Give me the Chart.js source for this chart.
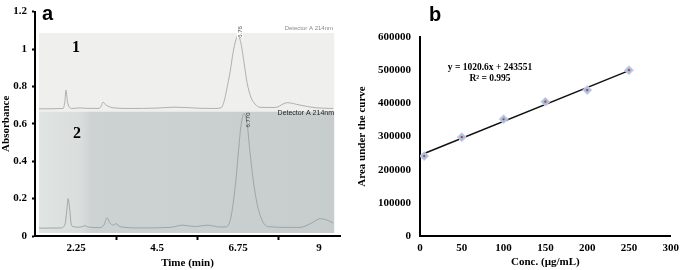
<!DOCTYPE html>
<html>
<head>
<meta charset="utf-8">
<script src="https://cdn.jsdelivr.net/npm/chart.js@4.4.0/dist/chart.umd.min.js"></script>
<style>
  html, body { margin: 0; padding: 0; background: #fff; }
  #wrap { position: relative; width: 685px; height: 270px; }
  #chartA { position: absolute; left: 0; top: 0; }
  #chartB { position: absolute; left: 345px; top: 0; }
</style>
</head>
<body>
<div id="wrap">
  <canvas id="chartA" width="345" height="270"></canvas>
  <canvas id="chartB" width="340" height="270"></canvas>
</div>
<script>
// panel a - two chromatograms, [time (min), absorbance as plotted]
const timeTicks = [2.25, 4.5, 6.75, 9];
const trace1 = [
  [1.22, 0.680], [1.89, 0.682], [1.94, 0.72], [1.97, 0.78], [2.01, 0.72], [2.06, 0.69],
  [2.14, 0.682], [2.36, 0.685], [2.5, 0.683], [2.89, 0.682], [2.96, 0.70], [3.0, 0.716],
  [3.08, 0.70], [3.17, 0.692], [3.25, 0.686], [3.75, 0.682], [4.5, 0.684], [5.0, 0.689],
  [5.69, 0.683], [6.11, 0.682], [6.28, 0.686], [6.36, 0.72], [6.44, 0.79], [6.53, 0.88],
  [6.61, 0.98], [6.69, 1.05], [6.75, 1.07], [6.83, 1.03], [6.92, 0.92], [7.0, 0.82],
  [7.11, 0.74], [7.22, 0.706], [7.36, 0.688], [7.78, 0.687], [8.11, 0.713], [8.47, 0.70],
  [8.89, 0.686], [9.39, 0.682]
];
const trace2 = [
  [1.22, 0.042], [1.81, 0.043], [1.94, 0.06], [2.0, 0.15], [2.03, 0.20], [2.07, 0.15],
  [2.11, 0.07], [2.17, 0.05], [2.36, 0.047], [2.5, 0.055], [2.58, 0.048], [2.92, 0.045],
  [3.03, 0.06], [3.11, 0.098], [3.19, 0.07], [3.28, 0.058], [3.36, 0.066], [3.47, 0.05],
  [4.03, 0.043], [4.86, 0.046], [5.22, 0.058], [5.56, 0.05], [5.89, 0.058], [6.25, 0.048],
  [6.42, 0.049], [6.53, 0.083], [6.61, 0.17], [6.69, 0.30], [6.75, 0.43], [6.83, 0.59],
  [6.92, 0.655], [7.0, 0.60], [7.08, 0.45], [7.17, 0.30], [7.28, 0.17], [7.42, 0.083],
  [7.58, 0.05], [8.19, 0.046], [8.47, 0.046], [8.8, 0.07], [9.03, 0.093], [9.22, 0.085],
  [9.39, 0.07]
];

// panel b - calibration curve
const concentrations = [5, 50, 100, 150, 200, 250];
const areas = [241000, 298000, 352000, 405000, 440000, 500000];
const fitLine = [[5, 248654], [250, 498701]];
const fitLabel = ['y = 1020.6x + 243551', 'R\u00b2 = 0.995'];

const serif = '"Liberation Serif", "Times New Roman", serif';
const sans = '"Liberation Sans", Arial, sans-serif';
const toXY = arr => arr.map(p => ({ x: p[0], y: p[1] }));

// grey photo-like backgrounds behind the traces, plus the labels printed on them
const chromatogramDecor = {
  id: 'chromatogramDecor',
  beforeDatasetsDraw(chart) {
    const { ctx, scales: { x, y } } = chart;
    const L = x.getPixelForValue(1.22), R = x.getPixelForValue(9.42);
    const top1 = y.getPixelForValue(1.086);
    const mid = y.getPixelForValue(0.665);
    const bot2 = y.getPixelForValue(0.016);
    ctx.save();
    ctx.fillStyle = '#efefed';
    ctx.fillRect(L, top1, R - L, mid - top1);
    const g = ctx.createLinearGradient(L, 0, R, 0);
    g.addColorStop(0, '#e0e4e3');
    g.addColorStop(0.14, '#d9dedd');
    g.addColorStop(0.18, '#cdd3d2');
    g.addColorStop(1, '#c7cdcc');
    ctx.fillStyle = g;
    ctx.fillRect(L, mid, R - L, bot2 - mid);
    ctx.restore();
  },
  afterDraw(chart) {
    const { ctx } = chart;
    ctx.save();
    ctx.fillStyle = '#000';
    ctx.font = 'bold 20px ' + sans;
    ctx.textAlign = 'left';
    ctx.textBaseline = 'alphabetic';
    ctx.fillText('a', 42, 20);

    ctx.font = 'bold 16px ' + serif;
    ctx.textAlign = 'center';
    ctx.textBaseline = 'middle';
    ctx.fillText('1', 76, 48);
    ctx.fillText('2', 77, 134);

    ctx.font = '7px ' + sans;
    ctx.textAlign = 'right';
    ctx.textBaseline = 'alphabetic';
    ctx.fillStyle = '#222';
    ctx.fillText('Detector A 214nm', 334, 115);
    ctx.fillStyle = '#8a8a8a';
    ctx.font = '6px ' + sans;
    ctx.fillText('Detector A 214nm', 333, 30);

    // retention time labels, printed sideways
    ctx.fillStyle = '#fff';
    ctx.fillRect(237, 27, 6, 11);
    ctx.font = '6px ' + sans;
    ctx.fillStyle = '#444';
    ctx.translate(242, 32);
    ctx.rotate(-Math.PI / 2);
    ctx.textAlign = 'center';
    ctx.fillText('6.76', 0, 0);
    ctx.rotate(Math.PI / 2);
    ctx.translate(-242, -32);
    ctx.fillStyle = '#333';
    ctx.translate(250, 120);
    ctx.rotate(-Math.PI / 2);
    ctx.fillText('6.770', 0, 0);
    ctx.restore();
  }
};

new Chart(document.getElementById('chartA'), {
  type: 'scatter',
  data: {
    datasets: [
      { data: toXY(trace1), showLine: true, borderColor: '#a8a8a8', borderWidth: 0.9,
        pointRadius: 0, cubicInterpolationMode: 'monotone' },
      { data: toXY(trace2), showLine: true, borderColor: '#9aa09f', borderWidth: 0.9,
        pointRadius: 0, cubicInterpolationMode: 'monotone' }
    ]
  },
  options: {
    responsive: false,
    animation: false,
    devicePixelRatio: 1,
    layout: { padding: { top: 5, right: 5, left: 0, bottom: 0 } },
    plugins: { legend: { display: false }, tooltip: { enabled: false } },
    scales: {
      x: {
        type: 'linear',
        min: 1.11,
        max: 9.58,
        afterBuildTicks: s => {
          s.ticks = [2.25, 3.375, 4.5, 5.625, 6.75, 7.875, 9].map(v => ({ value: v }));
        },
        afterFit: s => { s.height = 34; },
        ticks: {
          autoSkip: false,
          maxRotation: 0,
          padding: 2,
          color: '#000',
          font: { family: serif, size: 11, weight: 'bold' },
          callback: v => (timeTicks.includes(v) ? String(v) : '')
        },
        grid: {
          drawOnChartArea: false,
          tickLength: 4,
          tickWidth: 2,
          tickColor: c => (c.tick && timeTicks.includes(c.tick.value) ? 'rgba(0,0,0,0)' : '#000')
        },
        border: { color: '#000', width: 2 },
        title: {
          display: true, text: 'Time (min)', color: '#000',
          font: { family: serif, size: 11, weight: 'bold' },
          padding: { top: 0, bottom: 0 }
        }
      },
      y: {
        min: 0,
        max: 1.2,
        afterFit: s => { s.width = 35; },
        ticks: {
          stepSize: 0.2,
          padding: 5,
          color: '#000',
          font: { family: serif, size: 11, weight: 'bold' },
          callback: v => String(Math.round(v * 10) / 10)
        },
        grid: { drawOnChartArea: false, tickLength: 3, tickWidth: 2, tickColor: '#000' },
        border: { color: '#000', width: 2 },
        title: {
          display: true, text: 'Absorbance', color: '#000',
          font: { family: serif, size: 11, weight: 'bold' },
          padding: { top: 0, bottom: 0 }
        }
      }
    }
  },
  plugins: [chromatogramDecor]
});

const calibrationDecor = {
  id: 'calibrationDecor',
  afterDraw(chart) {
    const { ctx } = chart;
    ctx.save();
    ctx.fillStyle = '#000';
    ctx.font = 'bold 20px ' + sans;
    ctx.textAlign = 'left';
    ctx.textBaseline = 'alphabetic';
    ctx.fillText('b', 84, 21);
    ctx.font = 'bold 9.5px ' + serif;
    ctx.textAlign = 'center';
    ctx.textBaseline = 'middle';
    ctx.fillText(fitLabel[0], 145, 68);
    ctx.fillText(fitLabel[1], 145, 79);
    ctx.restore();
  }
};

new Chart(document.getElementById('chartB'), {
  type: 'scatter',
  data: {
    datasets: [
      { data: toXY(fitLine), showLine: true, borderColor: '#111', borderWidth: 1.5,
        pointRadius: 0, order: 3 },
      { data: concentrations.map((c, i) => ({ x: c, y: areas[i] })), pointStyle: 'rectRot',
        pointRadius: 4.5, backgroundColor: '#a7c0de', borderColor: '#c6d6ea', borderWidth: 1, order: 2 },
      { data: concentrations.map((c, i) => ({ x: c, y: areas[i] })), pointRadius: 1.1,
        backgroundColor: '#e0282a', borderWidth: 0, order: 1 }
    ]
  },
  options: {
    responsive: false,
    animation: false,
    devicePixelRatio: 1,
    layout: { padding: { top: 37, right: 10, left: 0, bottom: 0 } },
    plugins: { legend: { display: false }, tooltip: { enabled: false } },
    scales: {
      x: {
        type: 'linear',
        min: 0,
        max: 300,
        afterFit: s => { s.height = 34; },
        ticks: {
          stepSize: 50,
          padding: 6,
          maxRotation: 0,
          color: '#000',
          font: { family: serif, size: 11, weight: 'bold' }
        },
        grid: { drawOnChartArea: false, drawTicks: false },
        border: { color: '#000', width: 2 },
        title: {
          display: true, text: 'Conc. (\u00b5g/mL)', color: '#000',
          font: { family: serif, size: 11, weight: 'bold' },
          padding: { top: 0, bottom: 1 }
        }
      },
      y: {
        min: 0,
        max: 600000,
        afterFit: s => { s.width = 75; },
        ticks: {
          stepSize: 100000,
          padding: 9,
          color: '#000',
          font: { family: serif, size: 11, weight: 'bold' },
          callback: v => String(v)
        },
        grid: { drawOnChartArea: false, drawTicks: false },
        border: { color: '#000', width: 2 },
        title: {
          display: true, text: 'Area under the curve', color: '#000',
          font: { family: serif, size: 11, weight: 'bold' },
          padding: { top: 11, bottom: 0 }
        }
      }
    }
  },
  plugins: [calibrationDecor]
});
</script>
</body>
</html>
